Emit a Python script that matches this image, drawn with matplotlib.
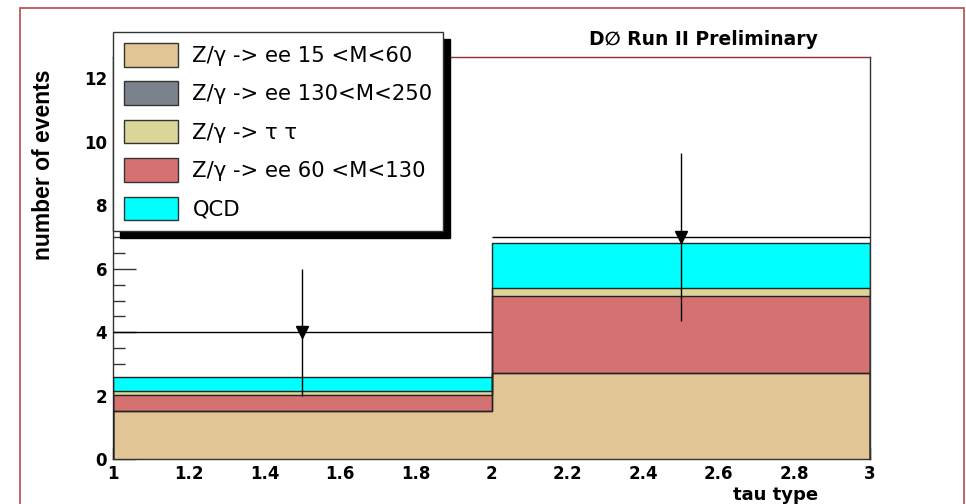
import matplotlib
matplotlib.use("Agg")

import matplotlib.pyplot as plt
from matplotlib.patches import Patch, Rectangle
from matplotlib.ticker import MultipleLocator

plt.rcParams["font.family"] = ["DejaVu Sans"]

# bin edges of the tau type histogram
bin_edges = [1.0, 2.0, 3.0]
bin_centres = [1.5, 2.5]

# stacked backgrounds, bottom to top
zee_15_60 = [1.53, 2.71]
zee_130_250 = [0.0, 0.0]
zee_60_130 = [0.49, 2.42]
ztautau = [0.12, 0.27]
qcd = [0.46, 1.40]

# observed data
data_counts = [4.0, 7.0]
data_err = [2.0, 2.65]
bin_halfwidth = [0.5, 0.5]

_COL_ZEE_LOW = "#e1c595"
_COL_ZEE_HIGH = "#7a838c"
_COL_ZTT = "#dad598"
_COL_ZEE_PEAK = "#d67172"
_COL_QCD = "#00ffff"
_COL_LINE = "#222222"

stack = [
    (zee_15_60, _COL_ZEE_LOW),
    (zee_130_250, _COL_ZEE_HIGH),
    (zee_60_130, _COL_ZEE_PEAK),
    (ztautau, _COL_ZTT),
    (qcd, _COL_QCD),
]

fig = plt.figure(figsize=(9.66, 5.04), dpi=100, facecolor="white")
ax = fig.add_axes([0.1173, 0.0887, 0.7833, 0.7976])

# cumulative stack: fills first, then ROOT-style outlines of each layer
bottom = [0.0, 0.0]
tops = []
for vals, col in stack:
    top = [b + v for b, v in zip(bottom, vals)]
    ax.stairs(top, bin_edges, baseline=bottom, fill=True, color=col, zorder=2)
    tops.append(top)
    bottom = top
for top in tops:
    ax.stairs(top, bin_edges, baseline=0, fill=False, color=_COL_LINE, lw=1.0, zorder=3)

ax.errorbar(bin_centres, data_counts, xerr=bin_halfwidth, yerr=data_err,
            fmt="v", color="black", ms=9, lw=1.0, capsize=0, zorder=4)

ax.set_xlim(1, 3)
ax.set_ylim(0, 12.66)
ax.xaxis.set_major_locator(MultipleLocator(0.2))
ax.xaxis.set_minor_locator(MultipleLocator(0.05))
ax.yaxis.set_major_locator(MultipleLocator(2))
ax.yaxis.set_minor_locator(MultipleLocator(0.5))
ax.tick_params(axis="both", which="both", direction="in", color="#333333",
               top=False, right=False)
ax.tick_params(axis="y", which="major", length=16.5, width=1.0, pad=4.5, labelsize=12)
ax.tick_params(axis="y", which="minor", length=8.5, width=1.0)
ax.tick_params(axis="x", which="major", length=8, width=1.0, pad=4, labelsize=12)
ax.tick_params(axis="x", which="minor", length=3.8, width=1.0)
ax.set_xticks([1, 1.2, 1.4, 1.6, 1.8, 2, 2.2, 2.4, 2.6, 2.8, 3])
ax.set_xticklabels(["1", "1.2", "1.4", "1.6", "1.8", "2", "2.2", "2.4", "2.6", "2.8", "3"])
for lab in ax.get_xticklabels() + ax.get_yticklabels():
    lab.set_fontweight("bold")

for side in ("left", "bottom", "right"):
    ax.spines[side].set_color("#333333")
    ax.spines[side].set_linewidth(1.0)
ax.spines["top"].set_color("#8a3030")
ax.spines["top"].set_linewidth(1.0)

fig.text(0.7283, 0.9107, "D\u2205 Run II Preliminary", ha="center", va="baseline",
         fontsize=13.5, fontweight="bold")
fig.text(0.0455, 0.6726, "number of events", rotation=90, ha="center", va="center",
         fontsize=16.5, fontweight="bold", family="Liberation Sans")
fig.text(0.847, 0.0085, "tau type", ha="right", va="baseline",
         fontsize=13, fontweight="bold")

handles = [
    Patch(facecolor=_COL_ZEE_LOW, edgecolor="#333333", label="Z/\u03b3 -> ee 15 <M<60"),
    Patch(facecolor=_COL_ZEE_HIGH, edgecolor="#333333", label="Z/\u03b3 -> ee 130<M<250"),
    Patch(facecolor=_COL_ZTT, edgecolor="#333333", label="Z/\u03b3 -> \u03c4 \u03c4"),
    Patch(facecolor=_COL_ZEE_PEAK, edgecolor="#333333", label="Z/\u03b3 -> ee 60 <M<130"),
    Patch(facecolor=_COL_QCD, edgecolor="#333333", label="QCD"),
]
fig.legend(handles=handles, loc="upper left", bbox_to_anchor=(0.1173, 0.936),
           fontsize=15.2, fancybox=False, framealpha=1, edgecolor="#333333",
           handlelength=2.55, handleheight=1.35, handletextpad=0.7,
           labelspacing=0.7, borderpad=0.5, borderaxespad=0,
           shadow={"ox": 5, "oy": -5, "color": "black", "alpha": 1})

# canvas frame
fig.patches.append(Rectangle((20 / 966, -0.1), 944 / 966, 1.1 - 8 / 504,
                             transform=fig.transFigure, fill=False,
                             edgecolor="#c05555", lw=1.3))

fig.savefig("out.png", dpi=100, facecolor="white")
